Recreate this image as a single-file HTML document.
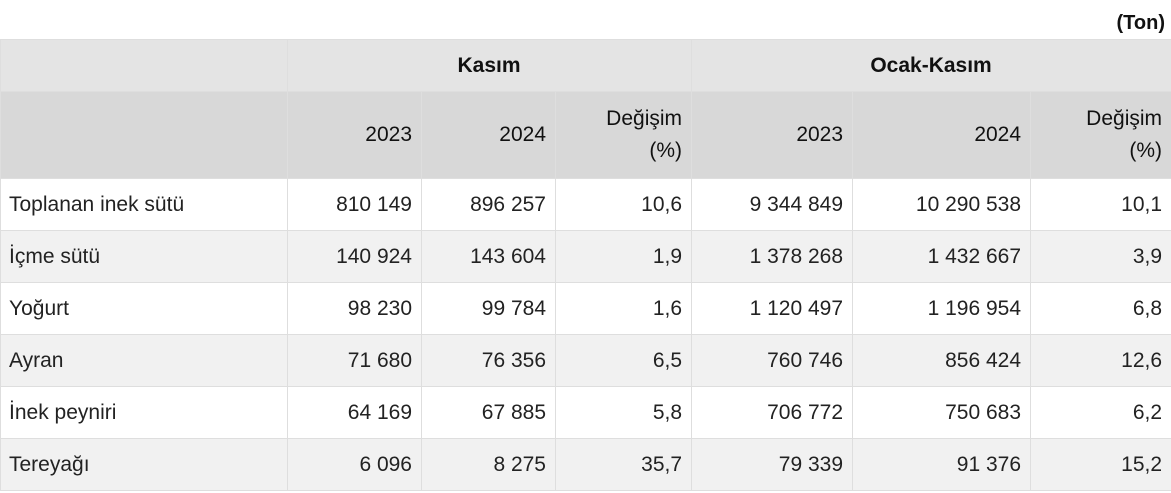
<!DOCTYPE html>
<html><head><meta charset="utf-8"><style>
body{margin:0;background:#fff;font-family:"Liberation Sans","DejaVu Sans",sans-serif;color:#222;}
.unit{position:absolute;right:6px;top:12px;font-weight:bold;font-size:20px;color:#111;}
table{position:absolute;left:0;top:39px;width:1171px;border-collapse:collapse;table-layout:fixed;font-size:21px;}
td,th{border:1px solid #dedede;padding:0 9px 0 8px;text-align:right;font-weight:normal;}
tr.h1 th{background:#e4e4e4;height:51px;font-weight:bold;text-align:center;color:#111;}
tr.h2 th{background:#d8d8d8;height:86px;line-height:32px;color:#111;}
tr.d td{height:51px;}
tr.d:nth-child(even) td{background:#f1f1f1;}
td.l{text-align:left;}
</style></head><body>
<div class="unit">(Ton)</div>
<table>
<colgroup><col style="width:287px"><col style="width:134px"><col style="width:134px"><col style="width:136px"><col style="width:161px"><col style="width:178px"><col style="width:141px"></colgroup>
<tr class="h1"><th></th><th colspan="3">Kasım</th><th colspan="3">Ocak-Kasım</th></tr>
<tr class="h2"><th></th><th>2023</th><th>2024</th><th>Değişim<br>(%)</th><th>2023</th><th>2024</th><th>Değişim<br>(%)</th></tr>
<tr class="d"><td class="l">Toplanan inek sütü</td><td>810 149</td><td>896 257</td><td>10,6</td><td>9 344 849</td><td>10 290 538</td><td>10,1</td></tr>
<tr class="d"><td class="l">İçme sütü</td><td>140 924</td><td>143 604</td><td>1,9</td><td>1 378 268</td><td>1 432 667</td><td>3,9</td></tr>
<tr class="d"><td class="l">Yoğurt</td><td>98 230</td><td>99 784</td><td>1,6</td><td>1 120 497</td><td>1 196 954</td><td>6,8</td></tr>
<tr class="d"><td class="l">Ayran</td><td>71 680</td><td>76 356</td><td>6,5</td><td>760 746</td><td>856 424</td><td>12,6</td></tr>
<tr class="d"><td class="l">İnek peyniri</td><td>64 169</td><td>67 885</td><td>5,8</td><td>706 772</td><td>750 683</td><td>6,2</td></tr>
<tr class="d"><td class="l">Tereyağı</td><td>6 096</td><td>8 275</td><td>35,7</td><td>79 339</td><td>91 376</td><td>15,2</td></tr>
</table>
</body></html>
